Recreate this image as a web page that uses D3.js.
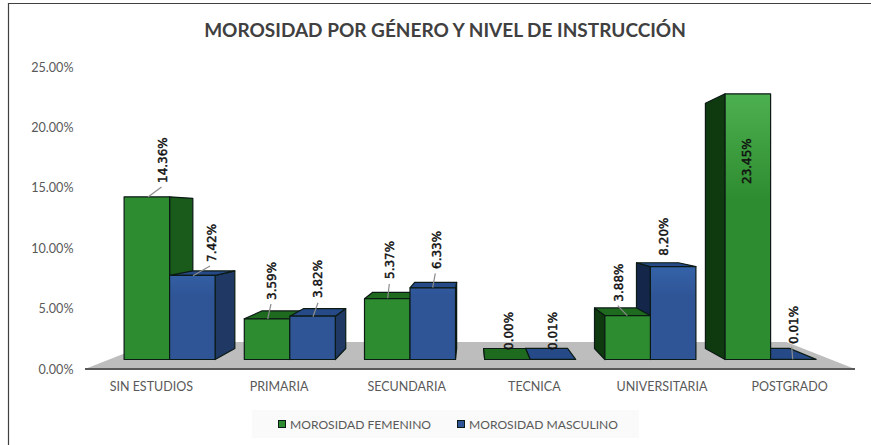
<!DOCTYPE html>
<html><head><meta charset="utf-8">
<script src="https://cdn.jsdelivr.net/npm/d3@7"></script>
<style>
html,body{margin:0;padding:0;background:#fff;}
svg{display:block;}
text{font-family:Lato,"Open Sans",sans-serif;fill:#595959;}
</style></head><body>
<svg id="c" width="871" height="445"></svg>
<script>
const chartTitle = "MOROSIDAD POR GÉNERO Y NIVEL DE INSTRUCCIÓN";
const categories = ["SIN ESTUDIOS","PRIMARIA","SECUNDARIA","TECNICA","UNIVERSITARIA","POSTGRADO"];
const seriesNames = ["MOROSIDAD FEMENINO","MOROSIDAD MASCULINO"];
const femenino = [14.36,3.59,5.37,0.00,3.88,23.45];
const masculino = [7.42,3.82,6.33,0.01,8.20,0.01];
const yTicks = [0,5,10,15,20,25];

// layout: label nudges and leader-line ends
const labelLayout = {
  F:[{dx:15.25,b:183,l:[148,197,161.5,187]},{dx:4.7,b:300,l:[267.7,319,271,304]},{dx:2.3,b:279,l:[387.7,298.3,389.3,284]},{dx:1.3,b:350},{dx:-9,b:301.7,l:[627.3,315.7,617.7,305.7]},{dx:-1.5,b:184}],
  M:[{dx:18.7,b:262,l:[193,275.7,210,266]},{dx:4.7,b:298,l:[313,316.7,318,302.7]},{dx:3.7,b:269,l:[432.7,287.7,435.3,273.3]},{dx:0,b:350},{dx:-9.2,b:255.7},{dx:0,b:344,l:[792.7,359.3,791.7,346.7]}]
};

const svg = d3.select("#c");
const W=871,H=445;
const vp={x:470.3,y:217}, k=0.9227;
const back=(p,kk=k)=>[vp.x+kk*(p[0]-vp.x), vp.y+kk*(p[1]-vp.y)];

// frame
svg.append("path").attr("d",`M8.5,445V3.5H${W}`).attr("fill","none").attr("stroke","#404040").attr("stroke-width",1.2);

// scales
const yAxisScale=d3.scaleLinear().domain([0,25]).range([369,67]);
const yBar=d3.scaleLinear().domain([0,25]).range([359.5,359.5-25*11.33]);
const xAxisScale=d3.scaleBand().domain(categories).range([87.5,853.5]);
const xBar=d3.scaleBand().domain(categories).range([109.5,830.7]);
const barX=(cat,s)=>xBar(cat)+xBar.bandwidth()/2-45.5+s*45.5;

// floor
const fl=[[85,369],[855,369]];
const kf=0.822;
const floorPts=[fl[0],fl[1],back(fl[1],kf),back(fl[0],kf)];
svg.append("polygon").attr("points",floorPts.join(" ")).attr("fill","#bdbdbd");

// axes
const gx=svg.append("g").attr("transform","translate(0,369)").call(d3.axisBottom(xAxisScale).tickSize(0).tickPadding(13));
gx.select(".domain").remove();
svg.append("line").attr("x1",85).attr("x2",855).attr("y1",369).attr("y2",369).attr("stroke","#595959").attr("stroke-width",2);
gx.selectAll("text").attr("font-size",12.5).attr("fill","#595959").style("font-family","Lato");
const gy=svg.append("g").attr("transform","translate(73.5,0)").call(d3.axisLeft(yAxisScale).tickValues(yTicks).tickSize(0).tickPadding(0).tickFormat(d=>d3.format(".2f")(d)+"%"));
gy.select(".domain").remove();
gy.selectAll("text").attr("font-size",12.6).attr("fill","#595959").style("font-family","Lato");

// gradients
const defs=svg.append("defs");
const g=defs.append("linearGradient").attr("id","gf").attr("gradientUnits","userSpaceOnUse").attr("x1",0).attr("x2",0).attr("y1",94).attr("y2",200);
g.append("stop").attr("offset",0).attr("stop-color","#4db050");
g.append("stop").attr("offset",1).attr("stop-color","#2d8c2f");
const gm=defs.append("linearGradient").attr("id","gm").attr("gradientUnits","userSpaceOnUse").attr("x1",0).attr("x2",0).attr("y1",262).attr("y2",295);
gm.append("stop").attr("offset",0).attr("stop-color","#3665ab");
gm.append("stop").attr("offset",1).attr("stop-color","#2f5597");

const pal=[{front:"url(#gf)",top:"#1e6a1e",right:"#1a5a1a",left:"#0f3a10"},
           {front:"url(#gm)",top:"#264a87",right:"#1f3864",left:"#14274b"}];

// bars, far from the vanishing point first
const bars=[];
categories.forEach((c,i)=>{
  [femenino[i],masculino[i]].forEach((v,s)=>{
    const x0=barX(c,s),x1=x0+45.5;
    bars.push({c,i,s,v,x0,x1});
  });
});
bars.sort((a,b)=>Math.abs((b.x0+b.x1)/2-vp.x)-Math.abs((a.x0+a.x1)/2-vp.x));
const stroke="#0b1a14";
const gb=svg.append("g").attr("stroke",stroke).attr("stroke-width",1.2).attr("stroke-linejoin","round");
bars.forEach(b=>{
  const yt=yBar(b.v),yb=yBar(0),p=pal[b.s];
  const fl_=[b.x0,yb],fr=[b.x1,yb],tl=[b.x0,yt],tr=[b.x1,yt];
  if(b.x1<vp.x) gb.append("polygon").attr("points",[fr,tr,back(tr),back(fr)].join(" ")).attr("fill",p.right);
  if(b.x0>vp.x) gb.append("polygon").attr("points",[fl_,tl,back(tl),back(fl_)].join(" ")).attr("fill",p.left);
  if(yt>vp.y) gb.append("polygon").attr("points",[tl,tr,back(tr),back(tl)].join(" ")).attr("fill",p.top);
  if(b.v>0.05) gb.append("rect").attr("x",b.x0).attr("y",yt).attr("width",45.5).attr("height",yb-yt).attr("fill",p.front);
});

// data labels
const labG=svg.append("g");
[[femenino,labelLayout.F,0],[masculino,labelLayout.M,1]].forEach(([vals,lay,s])=>{
  vals.forEach((v,i)=>{
    const cx=barX(categories[i],s)+22.75, L=lay[i];
    if(L.l) labG.append("line").attr("x1",L.l[0]).attr("y1",L.l[1]).attr("x2",L.l[2]).attr("y2",L.l[3]).attr("stroke","#8c8c8c").attr("stroke-width",1.2);
    labG.append("text").attr("transform",`translate(${cx+L.dx+4.5},${L.b}) rotate(-90)`)
      .attr("font-size",12).style("font-family","DejaVu Sans").style("fill","#111")
      .attr("stroke","#111").attr("stroke-width",0.45)
      .text(d3.format(".2f")(v)+"%");
  });
});

// title
svg.append("text").attr("x",445).attr("y",37).attr("text-anchor","middle").attr("font-size",19).attr("font-weight",700).style("fill","#404040").text(chartTitle);

// legend
svg.append("rect").attr("x",252).attr("y",410).attr("width",387).attr("height",28).attr("fill","#fafafa");
const legX=[278,457], legC=["#2d8c2f","#2f5597"];
seriesNames.forEach((n,i)=>{
  svg.append("rect").attr("x",legX[i]+0.5).attr("y",420.5).attr("width",7).attr("height",7).attr("fill",legC[i]).attr("stroke",stroke).attr("stroke-width",1);
  svg.append("text").attr("x",legX[i]+12).attr("y",429).attr("font-size",12.1).text(n);
});
</script>
</body></html>
